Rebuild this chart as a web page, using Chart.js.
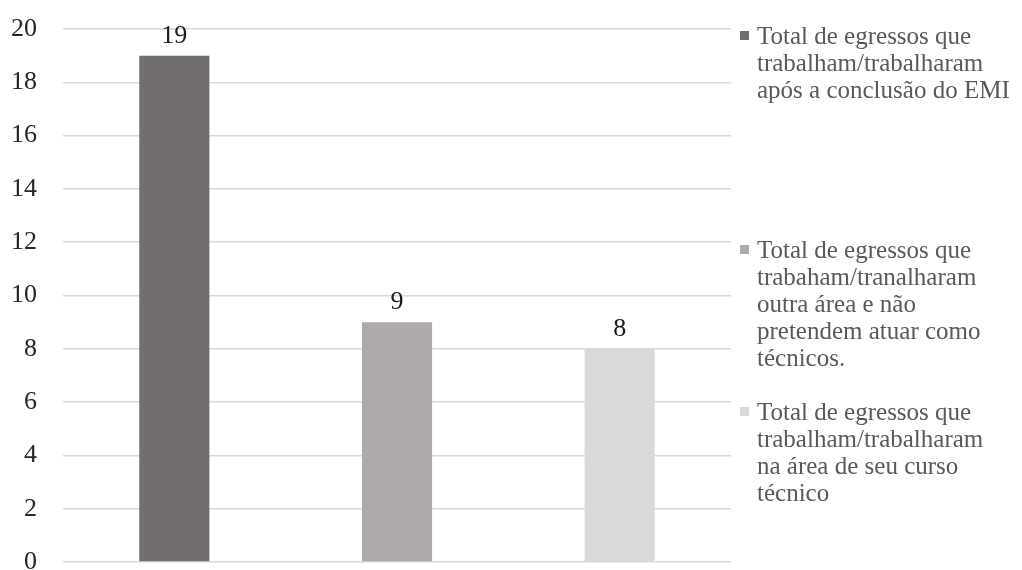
<!DOCTYPE html>
<html lang="pt">
<head>
<meta charset="utf-8">
<title>Egressos</title>
<script src="https://cdn.jsdelivr.net/npm/chart.js@4.4.1/dist/chart.umd.min.js"></script>
<style>
  body { margin: 0; background: #fff; width: 1022px; height: 570px; overflow: hidden;
         font-family: "Liberation Serif", "Times New Roman", serif; }
  #chart { position: absolute; left: 0; top: 0; }
  .item { position: absolute; left: 740px; padding-left: 17px; font-size: 25px;
          line-height: 27px; color: #595959; white-space: nowrap; }
  .item .box { position: absolute; left: 0; top: 9px; width: 9px; height: 9px; }
</style>
</head>
<body>
<canvas id="chart" width="745" height="570"></canvas>
<div id="legend"></div>
<script>
// ===== dados do gráfico =====
const categories = [''];
const yTicks = [0, 2, 4, 6, 8, 10, 12, 14, 16, 18, 20];

const seriesLines = [
    ['Total de egressos que', 'trabalham/trabalharam', 'após a conclusão do EMI'],
    ['Total de egressos que', 'trabaham/tranalharam', 'outra área e não', 'pretendem atuar como', 'técnicos.'],
    ['Total de egressos que', 'trabalham/trabalharam', 'na área de seu curso', 'técnico']
];
const seriesValues = [19, 9, 8];
const seriesColors = ['#726e6d', '#aeaaaa', '#d9d9d9'];

// posição vertical de cada item da legenda
const legendTops = [22, 236, 398];

// ===== rótulos de valor acima das barras =====
const valueLabels = {
    id: 'valueLabels',
    afterDatasetsDraw(chart) {
        const ctx = chart.ctx;
        ctx.save();
        ctx.font = '26px "Liberation Serif", serif';
        ctx.fillStyle = '#1a1a1a';
        ctx.textAlign = 'center';
        ctx.textBaseline = 'alphabetic';
        chart.data.datasets.forEach((ds, i) => {
            chart.getDatasetMeta(i).data.forEach((bar, j) => {
                ctx.fillText(ds.data[j], bar.x, bar.y - 13);
            });
        });
        ctx.restore();
    }
};

const ctx = document.getElementById('chart').getContext('2d');
const chart = new Chart(ctx, {
    type: 'bar',
    data: {
        labels: categories,
        datasets: seriesValues.map((v, i) => ({
            label: seriesLines[i].join(' '),
            data: [v],
            backgroundColor: seriesColors[i],
            borderWidth: 0
        }))
    },
    options: {
        responsive: false,
        animation: false,
        categoryPercentage: 1,
        barPercentage: 0.315,
        layout: { padding: { left: 10, top: 29, right: 14, bottom: 8 } },
        plugins: {
            legend: { display: false },
            tooltip: { enabled: false }
        },
        scales: {
            x: { display: false },
            y: {
                min: yTicks[0],
                max: yTicks[yTicks.length - 1],
                afterBuildTicks: axis => { axis.ticks = yTicks.map(v => ({ value: v })); },
                afterFit: axis => {
                    axis.width = 53;
                    // o padding dos rótulos não deve empurrar a área do gráfico
                    axis.paddingTop = 0;
                    axis.paddingBottom = 0;
                },
                border: { display: false },
                grid: { color: '#d9d9d9', lineWidth: 1.5, drawTicks: false },
                ticks: {
                    padding: 26,
                    color: '#262626',
                    font: { family: '"Liberation Serif", serif', size: 26 }
                }
            }
        }
    },
    plugins: [valueLabels]
});

// ===== legenda em HTML =====
const legend = document.getElementById('legend');
seriesLines.forEach((lines, i) => {
    const item = document.createElement('div');
    item.className = 'item';
    item.style.top = legendTops[i] + 'px';
    const box = document.createElement('span');
    box.className = 'box';
    box.style.background = seriesColors[i];
    item.appendChild(box);
    lines.forEach((line, k) => {
        if (k > 0) item.appendChild(document.createElement('br'));
        item.appendChild(document.createTextNode(line));
    });
    legend.appendChild(item);
});
</script>
</body>
</html>
